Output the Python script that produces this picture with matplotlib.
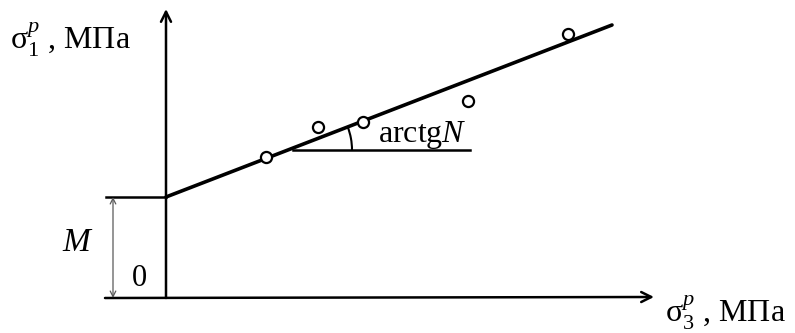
import numpy as np
import matplotlib
matplotlib.use("Agg")
import matplotlib.pyplot as plt
from matplotlib.patches import Arc

plt.rcParams['font.family'] = ['Liberation Serif', 'DejaVu Serif']
plt.rcParams['mathtext.fontset'] = 'custom'
plt.rcParams['mathtext.rm'] = 'Liberation Serif'
plt.rcParams['mathtext.it'] = 'Liberation Serif:italic'

# data (arbitrary units, origin at axis crossing)
M = 10.1          # intercept
N = 0.386         # slope
line_x = [0.0, 44.6]
line_y = [10.1, 27.3]
pts_x = [10.0, 15.2, 19.7, 30.2, 40.2]
pts_y = [14.1, 17.1, 17.6, 19.7, 26.4]

fig = plt.figure(figsize=(7.95, 3.33), dpi=100)
ax = fig.add_axes([0, 0, 1, 1])
ax.set_xlim(-16.6, 62.9)
ax.set_ylim(-3.5, 29.8)
ax.axis('off')

k = dict(color='black', lw=1.8)
# axes with arrows
ax.annotate('', xy=(48.8, 0.1), xytext=(-6.1, 0.0),
            arrowprops=dict(arrowstyle='->', lw=1.8, color='black', mutation_scale=18, shrinkA=0, shrinkB=0))
ax.annotate('', xy=(0, 28.9), xytext=(0, 0),
            arrowprops=dict(arrowstyle='->', lw=1.8, color='black', mutation_scale=18, shrinkA=0, shrinkB=0))

# fitted line and measured points
ax.plot(line_x, line_y, color='black', lw=2.6, solid_capstyle='round')
ax.plot(pts_x, pts_y, 'o', ms=8, mfc='white', mec='black', mew=1.6)

# intercept M
ax.plot([-6.0, 0], [M, M], **k)
ax.annotate('', xy=(-5.3, M), xytext=(-5.3, 0),
            arrowprops=dict(arrowstyle='<->', lw=0.9, color='0.35', mutation_scale=10, shrinkA=0, shrinkB=0))
ax.text(-9.0, 5.5, 'M', fontsize=24, style='italic', ha='center', va='center')
ax.text(-2.7, 1.9, '0', fontsize=22, ha='center', va='center')

# angle arctg N
ax.plot([12.7, 30.4], [14.8, 14.8], **k)
ang = np.degrees(np.arctan(N))
ax.add_patch(Arc((12.2, 14.8), 12.8, 12.8, theta1=0, theta2=ang, color='black', lw=1.5))
ax.text(21.2, 15.6, r'arctg$\it{N}$', fontsize=23, ha='left', va='baseline')

# axis labels
ax.text(-15.6, 25.8, 'σ' + r'$_1^{\it p}$' + ' , МПа', fontsize=23, ha='left', va='center')
ax.text(49.9, -1.5, 'σ' + r'$_3^{\it p}$' + ' , МПа', fontsize=23, ha='left', va='center')

fig.savefig('out.png', dpi=100)
